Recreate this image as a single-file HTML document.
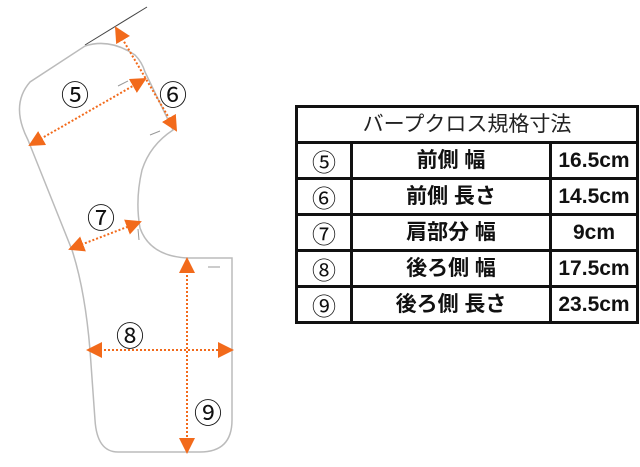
<!DOCTYPE html>
<html><head><meta charset="utf-8"><style>
html,body{margin:0;padding:0;background:#fff;width:640px;height:467px;overflow:hidden}
svg{position:absolute;left:0;top:0}
table{position:absolute;left:295px;top:105px;border-collapse:collapse;font-family:"Liberation Sans","Noto Sans CJK JP",sans-serif;}
td{border:3px solid #111;text-align:center;padding:0;height:33px;font-size:21px;font-weight:bold;color:#111;line-height:30px}
td.c{font-family:"Noto Sans CJK JP",sans-serif;font-weight:normal;font-size:24px}
td.h{font-weight:normal;font-size:21px;height:33px;color:#222}
</style></head><body>
<svg width="640" height="467" viewBox="0 0 640 467">
<defs>
<marker id="b" markerWidth="16" markerHeight="16" refX="14" refY="8" orient="auto-start-reverse" markerUnits="userSpaceOnUse" viewBox="0 0 16 16"><path d="M0,0 L16,8 L0,16z" fill="#f26a1b"/></marker></defs>
<line x1="85" y1="45" x2="147" y2="7" stroke="#444" stroke-width="1"/>
<path d="M85,46 Q110,38 135,55 Q142,62 145,72 L173,130 Q150,145 142,170 Q135,200 140,228 Q150,256 187,258 L232,258 L232,420 Q232,452 200,452 L118,452 Q97,452 95,420 L90,350 Q85,290 72,250 L28,140 Q10,105 30,82 Z" fill="none" stroke="#bbb" stroke-width="1.5"/>
<g stroke="#f26a1b" stroke-width="2" stroke-dasharray="2,2" fill="none">
<line x1="30" y1="145" x2="145" y2="79" marker-start="url(#b)" marker-end="url(#b)"/>
<line x1="116" y1="28" x2="176" y2="130" marker-start="url(#b)" marker-end="url(#b)"/>
<line x1="70" y1="249" x2="140" y2="222" marker-start="url(#b)" marker-end="url(#b)"/>
<line x1="88" y1="350" x2="232" y2="350" marker-start="url(#b)" marker-end="url(#b)"/>
<line x1="187" y1="259" x2="187" y2="452" marker-start="url(#b)" marker-end="url(#b)"/>
</g>
<g stroke="#999" stroke-width="1"><line x1="118" y1="86" x2="128" y2="81"/><line x1="150" y1="135" x2="160" y2="131"/><line x1="138" y1="229" x2="139" y2="240"/><line x1="208" y1="267" x2="220" y2="267"/></g>
<g font-family="Noto Sans CJK JP,sans-serif" font-size="28" fill="#111" text-anchor="middle">
<text x="75" y="105">⑤</text><text x="173" y="105">⑥</text><text x="101" y="228">⑦</text><text x="130" y="346">⑧</text><text x="208" y="423">⑨</text></g>
</svg>
<table>
<tr><td class="h" colspan="3" style="width:338px">バープクロス規格寸法</td></tr>
<tr><td class="c" style="width:52px">⑤</td><td style="width:196px">前側 幅</td><td style="width:84px">16.5cm</td></tr>
<tr><td class="c">⑥</td><td>前側 長さ</td><td>14.5cm</td></tr>
<tr><td class="c">⑦</td><td>肩部分 幅</td><td>9cm</td></tr>
<tr><td class="c">⑧</td><td>後ろ側 幅</td><td>17.5cm</td></tr>
<tr><td class="c">⑨</td><td>後ろ側 長さ</td><td>23.5cm</td></tr>
</table>
</body></html>
